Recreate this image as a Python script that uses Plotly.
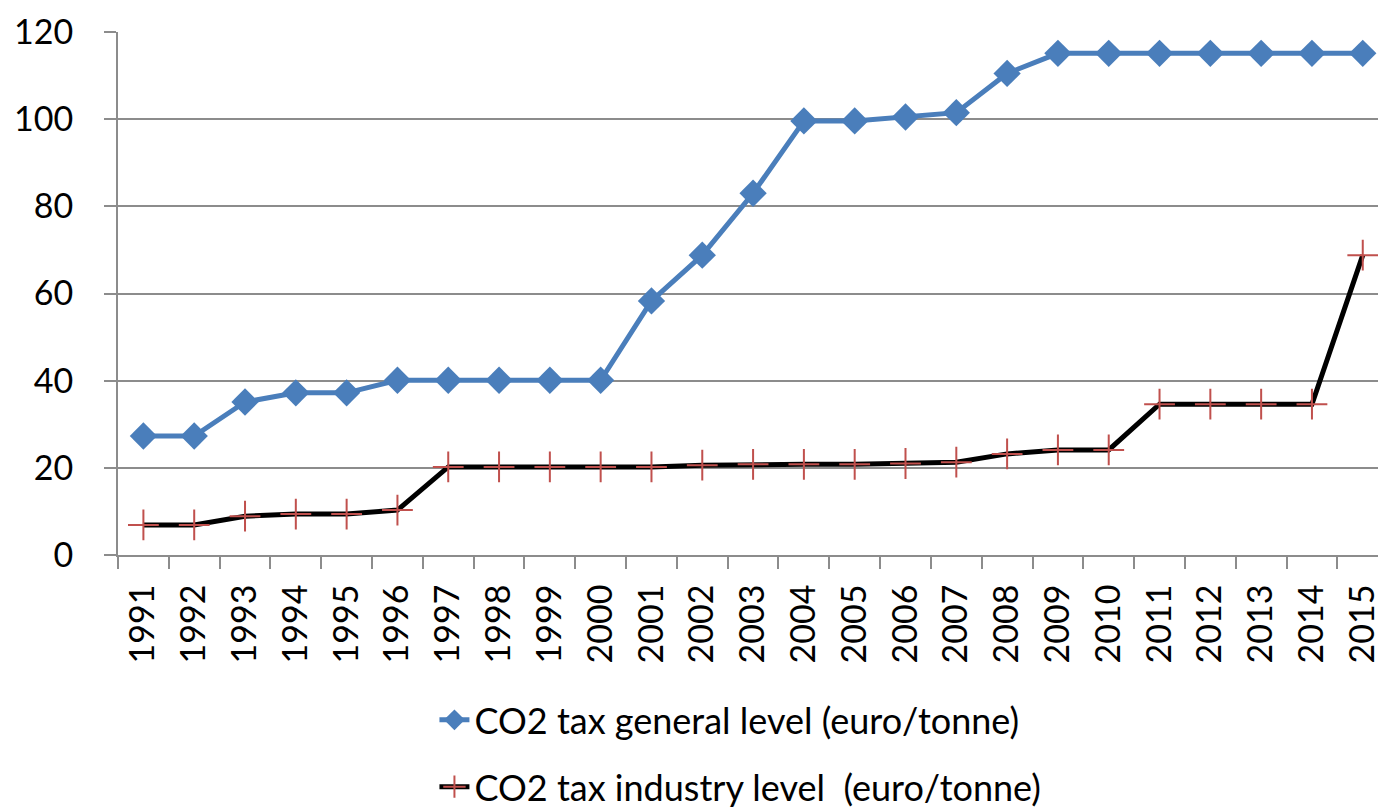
import plotly.graph_objects as go

years = [str(y) for y in range(1991, 2016)]
general_level = [27.3, 27.3, 35.1, 37.2, 37.2, 40.1, 40.1, 40.1, 40.1, 40.1,
                 58.3, 68.8, 83.0, 99.6, 99.6, 100.5, 101.5, 110.5, 115.1, 115.1,
                 115.1, 115.1, 115.1, 115.1, 115.1]
industry_level = [6.9, 6.9, 8.9, 9.4, 9.4, 10.3, 20.2, 20.2, 20.2, 20.2,
                  20.2, 20.6, 20.8, 20.8, 20.8, 21.0, 21.3, 23.2, 24.1, 24.1,
                  34.6, 34.6, 34.6, 34.6, 68.8]
y_ticks = [0, 20, 40, 60, 80, 100, 120]

FONT = "Lato"
GRID = "#8c8c8c"

fig = go.Figure()
fig.add_trace(go.Scatter(
    x=years, y=general_level, mode="lines+markers",
    name="CO2 tax general level (euro/tonne)", legendgroup="g1",
    line=dict(color="#4a7ebb", width=5),
    marker=dict(symbol="diamond", size=21, color="#4a7ebb"),
    cliponaxis=False,
))
fig.add_trace(go.Scatter(
    x=years, y=industry_level, mode="lines+markers",
    name="CO2 tax industry level  (euro/tonne)", legendgroup="g2",
    line=dict(color="#000000", width=5),
    marker=dict(symbol="cross-thin", size=22, color="#c0504d",
                line=dict(color="#c0504d", width=2)),
    cliponaxis=False,
))

fig.update_layout(
    width=1378, height=812,
    margin=dict(l=118, r=0, t=32, b=257, autoexpand=False),
    paper_bgcolor="white", plot_bgcolor="white",
    font=dict(family=FONT, size=34, color="#000000"),
    showlegend=True,
    legend=dict(
        x=0.494, xanchor="center", y=-0.258, yanchor="top",
        orientation="v", font=dict(family=FONT, size=36),
        tracegroupgap=17, bgcolor="rgba(0,0,0,0)",
    ),
    xaxis=dict(
        type="category", range=[-0.5, 24.3], automargin=False,
        tickangle=-90, tickson="boundaries", ticks="outside",
        ticklen=12, tickwidth=2, tickcolor=GRID,
        showline=True, linecolor=GRID, linewidth=2,
        showgrid=False, tickfont=dict(size=34),
        ticklabelstandoff=14,
    ),
    yaxis=dict(
        range=[0, 120], tickvals=y_ticks, automargin=False,
        ticks="outside", ticklen=12, tickwidth=2, tickcolor=GRID,
        showline=True, linecolor=GRID, linewidth=2,
        showgrid=True, gridcolor=GRID, gridwidth=2,
        zeroline=False, tickfont=dict(size=34),
        ticklabelstandoff=24,
    ),
)

fig.write_html(
    "out.html",
    config={"displayModeBar": False},
    post_script="document.body.style.margin='0';document.body.style.overflow='hidden';",
)
